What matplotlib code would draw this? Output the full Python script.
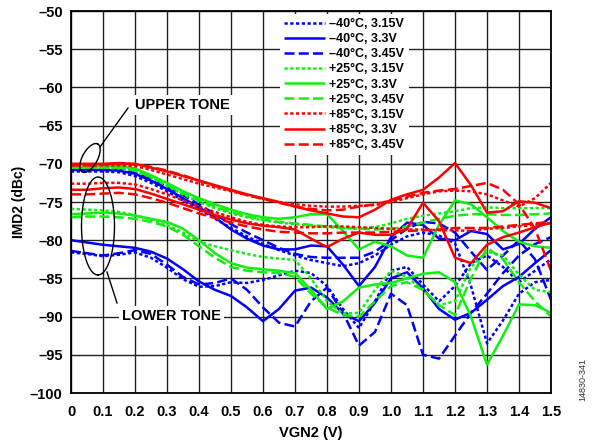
import numpy as np
import matplotlib
matplotlib.use("Agg")
import matplotlib.pyplot as plt

plt.rcParams['font.family'] = ['Liberation Sans', 'DejaVu Sans']
plt.rcParams['font.weight'] = 'bold'

# VGN2 sweep (V)
vgn2 = [0.00, 0.05, 0.10, 0.15, 0.20, 0.25, 0.30, 0.35, 0.40, 0.45, 0.50,
        0.55, 0.60, 0.65, 0.70, 0.75, 0.80, 0.85, 0.90, 0.95, 1.00,
        1.05, 1.10, 1.15, 1.20, 1.25, 1.30, 1.35, 1.40, 1.45, 1.50]

# -40C curves (upper tone / lower tone), IMD2 in dBc
m40_315_upper = [-71.0, -71.0, -71.0, -71.1, -71.6, -72.5, -73.6, -74.8, -76.0, -77.2, -78.4,
                 -79.5, -80.5, -81.3, -82.0, -82.6, -83.0, -83.4, -83.0, -82.0, -80.6,
                 -79.5, -79.0, -79.4, -80.4, -86.0, -93.5, -90.5, -87.0, -85.5, -85.2]
m40_33_upper = [-70.8, -70.8, -70.8, -70.9, -71.3, -72.2, -73.3, -74.5, -75.7, -77.0, -78.6,
                -79.8, -80.7, -81.2, -81.2, -80.7, -80.8, -83.2, -86.0, -83.5, -79.6,
                -77.7, -78.0, -79.8, -80.0, -78.8, -79.2, -81.2, -80.5, -78.5, -77.0]
m40_345_upper = [-70.7, -70.7, -70.7, -70.8, -71.2, -72.0, -73.0, -74.1, -75.3, -76.6, -77.9,
                 -79.0, -80.0, -81.0, -81.8, -82.2, -82.3, -82.3, -82.3, -81.5, -80.0,
                 -78.5, -77.6, -77.8, -79.0, -81.5, -83.9, -82.0, -80.0, -82.5, -87.8]
m40_315_lower = [-81.6, -81.8, -82.1, -81.9, -81.6, -82.3, -83.6, -85.1, -86.1, -86.0, -85.5,
                 -85.6, -85.2, -84.6, -84.0, -84.3, -86.0, -89.0, -91.5, -88.0, -84.0,
                 -83.5, -85.8, -88.0, -86.0, -83.0, -82.0, -83.5, -85.5, -84.0, -82.5]
m40_33_lower = [-80.0, -80.3, -80.6, -80.8, -81.0, -81.5, -82.4, -83.8, -85.4, -86.5, -87.3,
                -88.8, -90.6, -89.0, -86.6, -86.2, -87.5, -89.6, -90.6, -88.2, -85.0,
                -84.2, -86.3, -89.0, -90.4, -89.5, -87.8, -86.0, -84.8, -83.0, -81.3]
m40_345_lower = [-81.4, -81.7, -82.0, -81.7, -81.3, -81.8, -83.2, -84.8, -85.8, -85.6, -85.0,
                 -86.5, -88.8, -90.8, -91.3, -88.0, -86.2, -89.5, -93.8, -92.0, -87.0,
                 -88.5, -95.0, -95.5, -92.5, -89.5, -87.0, -84.3, -82.0, -80.5, -79.6]

# +25C curves
p25_315_upper = [-70.5, -70.5, -70.5, -70.6, -70.9, -71.8, -72.9, -74.0, -75.0, -75.8, -76.5,
                 -77.0, -77.4, -77.7, -77.9, -78.1, -78.3, -78.4, -78.5, -78.3, -77.8,
                 -77.2, -76.8, -76.5, -76.2, -75.8, -75.7, -75.8, -75.8, -75.8, -75.8]
p25_33_upper = [-70.4, -70.4, -70.3, -70.3, -70.6, -71.5, -72.5, -73.6, -74.5, -75.3, -76.0,
                -76.6, -77.0, -77.2, -77.0, -76.6, -76.6, -78.8, -81.2, -80.2, -80.8,
                -82.0, -82.3, -78.0, -74.8, -75.3, -77.0, -78.8, -80.2, -80.8, -81.0]
p25_345_upper = [-70.5, -70.5, -70.5, -70.5, -70.8, -71.7, -72.8, -73.9, -74.8, -75.6, -76.3,
                 -76.9, -77.3, -77.6, -77.8, -78.0, -78.2, -78.3, -78.5, -78.6, -78.5,
                 -78.2, -77.7, -77.2, -76.8, -76.6, -76.6, -76.7, -76.7, -76.6, -76.5]
p25_315_lower = [-75.9, -76.0, -76.1, -76.3, -76.7, -77.3, -78.0, -79.0, -80.2, -80.8, -81.3,
                 -81.8, -82.2, -82.4, -82.6, -85.0, -88.0, -89.6, -89.5, -86.5, -84.0,
                 -84.8, -86.5, -88.5, -88.0, -83.5, -81.5, -82.0, -84.5, -86.5, -86.8]
p25_33_lower = [-76.6, -76.5, -76.4, -76.5, -76.8, -77.2, -77.6, -78.5, -80.0, -81.7, -83.0,
                -83.6, -83.8, -84.0, -84.3, -86.5, -89.0, -88.0, -86.2, -85.8, -85.6,
                -85.0, -84.4, -84.2, -85.5, -90.0, -96.3, -92.5, -88.4, -88.5, -89.5]
p25_345_lower = [-77.0, -76.9, -76.9, -77.0, -77.2, -77.6, -78.2, -79.3, -80.8, -82.3, -83.5,
                 -84.0, -84.2, -84.3, -84.8, -87.0, -88.8, -89.8, -90.0, -88.0, -86.0,
                 -85.5, -86.5, -88.5, -89.8, -85.0, -81.0, -82.5, -85.5, -88.0, -90.0]

# +85C curves
p85_315_upper = [-70.2, -70.2, -70.2, -70.2, -70.3, -70.8, -71.4, -72.0, -72.6, -73.1, -73.6,
                 -74.1, -74.6, -75.0, -75.3, -75.5, -75.6, -75.6, -75.5, -75.4, -75.0,
                 -74.5, -74.0, -73.6, -73.5, -73.6, -74.0, -74.8, -75.6, -74.5, -72.5]
p85_33_upper = [-70.0, -70.0, -70.0, -69.9, -70.0, -70.5, -71.0, -71.6, -72.2, -72.8, -73.4,
                -74.0, -74.5, -75.0, -75.6, -76.1, -76.5, -76.9, -77.0, -76.0, -74.7,
                -74.0, -73.4, -71.8, -69.9, -72.8, -76.4, -76.2, -74.9, -75.1, -75.8]
p85_345_upper = [-70.2, -70.2, -70.1, -70.0, -70.1, -70.4, -70.9, -71.5, -72.2, -72.9, -73.5,
                 -74.1, -74.6, -75.1, -75.6, -75.9, -76.1, -76.0, -75.6, -75.3, -74.8,
                 -74.3, -73.8, -73.5, -73.3, -72.9, -72.5, -73.4, -75.3, -78.5, -84.0]
p85_315_lower = [-72.6, -72.6, -72.5, -72.5, -72.7, -73.3, -74.0, -74.8, -75.6, -76.3, -77.0,
                 -77.6, -78.0, -78.2, -78.3, -78.3, -78.2, -78.2, -78.3, -78.4, -78.5,
                 -78.6, -78.6, -78.7, -78.7, -78.8, -78.5, -78.4, -78.2, -78.0, -77.8]
p85_33_lower = [-73.4, -73.4, -73.2, -73.1, -73.3, -73.9, -74.6, -75.3, -76.0, -76.7, -77.3,
                -77.8, -78.1, -78.3, -78.6, -79.8, -80.9, -79.8, -79.0, -79.3, -79.3,
                -78.5, -75.1, -77.5, -82.3, -83.0, -80.6, -79.6, -79.0, -78.3, -77.7]
p85_345_lower = [-74.0, -74.0, -73.9, -73.8, -74.0, -74.5, -75.1, -75.8, -76.5, -77.1, -77.7,
                 -78.2, -78.6, -78.9, -79.0, -79.1, -79.1, -79.0, -79.0, -79.0, -78.9,
                 -78.8, -78.7, -78.6, -78.4, -78.4, -78.4, -78.2, -78.0, -77.8, -77.6]

labels = ['\u201340\u00b0C, 3.15V', '\u201340\u00b0C, 3.3V', '\u201340\u00b0C, 3.45V',
          '+25\u00b0C, 3.15V', '+25\u00b0C, 3.3V', '+25\u00b0C, 3.45V',
          '+85\u00b0C, 3.15V', '+85\u00b0C, 3.3V', '+85\u00b0C, 3.45V']
upper = [m40_315_upper, m40_33_upper, m40_345_upper,
         p25_315_upper, p25_33_upper, p25_345_upper,
         p85_315_upper, p85_33_upper, p85_345_upper]
lower = [m40_315_lower, m40_33_lower, m40_345_lower,
         p25_315_lower, p25_33_lower, p25_345_lower,
         p85_315_lower, p85_33_lower, p85_345_lower]

colors = ['#0000ff'] * 3 + ['#11ee11'] * 3 + ['#ff0000'] * 3
dash_styles = [(1.3, 1.0), None, (4.0, 1.7)] * 3

xticks = [0, 0.1, 0.2, 0.3, 0.4, 0.5, 0.6, 0.7, 0.8, 0.9, 1.0, 1.1, 1.2, 1.3, 1.4, 1.5]
xticklabels = ['0', '0.1', '0.2', '0.3', '0.4', '0.5', '0.6', '0.7', '0.8', '0.9',
               '1.0', '1.1', '1.2', '1.3', '1.4', '1.5']
yticks = [-50, -55, -60, -65, -70, -75, -80, -85, -90, -95, -100]
yticklabels = ['\u201350', '\u201355', '\u201360', '\u201365', '\u201370', '\u201375',
               '\u201380', '\u201385', '\u201390', '\u201395', '\u2013100']

fig = plt.figure(figsize=(5.94, 4.44), dpi=100)
ax = fig.add_axes([71 / 594, 1 - 393 / 444, 480 / 594, 382 / 444])

handles = []
for lab, col, ds, up, lo in zip(labels, colors, dash_styles, upper, lower):
    for k, ys in enumerate([up, lo]):
        ln, = ax.plot(vgn2, ys, color=col, lw=1.8, solid_capstyle='butt')
        if ds is not None:
            ln.set_dashes(ds)
        if k == 0:
            ln.set_label(lab)
            handles.append(ln)

ax.set_xlim(0, 1.5)
ax.set_ylim(-100, -50)
ax.set_xticks(xticks)
ax.set_xticklabels(xticklabels)
ax.set_yticks(yticks)
ax.set_yticklabels(yticklabels)
ax.tick_params(length=0, labelsize=10.5, pad=6)
ax.tick_params(axis='x', pad=9)
ax.set_axisbelow(True)
ax.grid(True, color='#222222', lw=1.0)
for sp in ax.spines.values():
    sp.set_linewidth(1.3)

ax.set_xlabel('VGN2 (V)', fontsize=10.5, weight='bold', labelpad=5)
ax.set_ylabel('IMD2 (dBc)', fontsize=10, weight='bold', labelpad=3)

leg = ax.legend(handles=handles, loc='upper left', bbox_to_anchor=(0.435, 0.993),
                borderaxespad=0, frameon=True, fancybox=False, framealpha=1,
                edgecolor='white', facecolor='white',
                prop={'weight': 'bold', 'size': 9}, handlelength=3.3,
                handletextpad=0.3, labelspacing=0.25, borderpad=0.35)
leg.get_frame().set_linewidth(0)

# pixel -> data helpers for the hand-drawn call-outs
def px2data(px, py):
    return (np.asarray(px) - 71) * 1.5 / 480, -50 - (np.asarray(py) - 11) * 50 / 382

def ellipse(cx, cy, a, b, ang):
    t = np.linspace(0, 2 * np.pi, 120)
    r = np.deg2rad(ang)
    px = cx + a * np.cos(t) * np.cos(r) - b * np.sin(t) * np.sin(r)
    py = cy + a * np.cos(t) * np.sin(r) + b * np.sin(t) * np.cos(r)
    return px2data(px, py)

ex, ey = ellipse(90, 158, 16, 7.5, -61)
ax.plot(ex, ey, color='black', lw=1.0, zorder=5)
ex, ey = ellipse(98, 226, 49, 16.5, 90)
ax.plot(ex, ey, color='black', lw=1.0, zorder=5)
lx, ly = px2data([100, 128], [147, 108])
ax.plot(lx, ly, color='black', lw=1.0, zorder=5)
lx, ly = px2data([107, 117], [272, 303])
ax.plot(lx, ly, color='black', lw=1.0, zorder=5)

tx, ty = px2data(135, 105)
ax.text(tx, ty, 'UPPER TONE', fontsize=10.5, weight='bold', ha='left', va='center',
        bbox=dict(facecolor='white', edgecolor='none', pad=2), zorder=6)
tx, ty = px2data(122, 316)
ax.text(tx, ty, 'LOWER TONE', fontsize=10.5, weight='bold', ha='left', va='center',
        bbox=dict(facecolor='white', edgecolor='none', pad=2), zorder=6)

fig.text(0.982, 0.145, '14830-341', rotation=90, fontsize=6.5, weight='normal',
         color='#333333', ha='center', va='center')

fig.savefig('out.png', dpi=100)
